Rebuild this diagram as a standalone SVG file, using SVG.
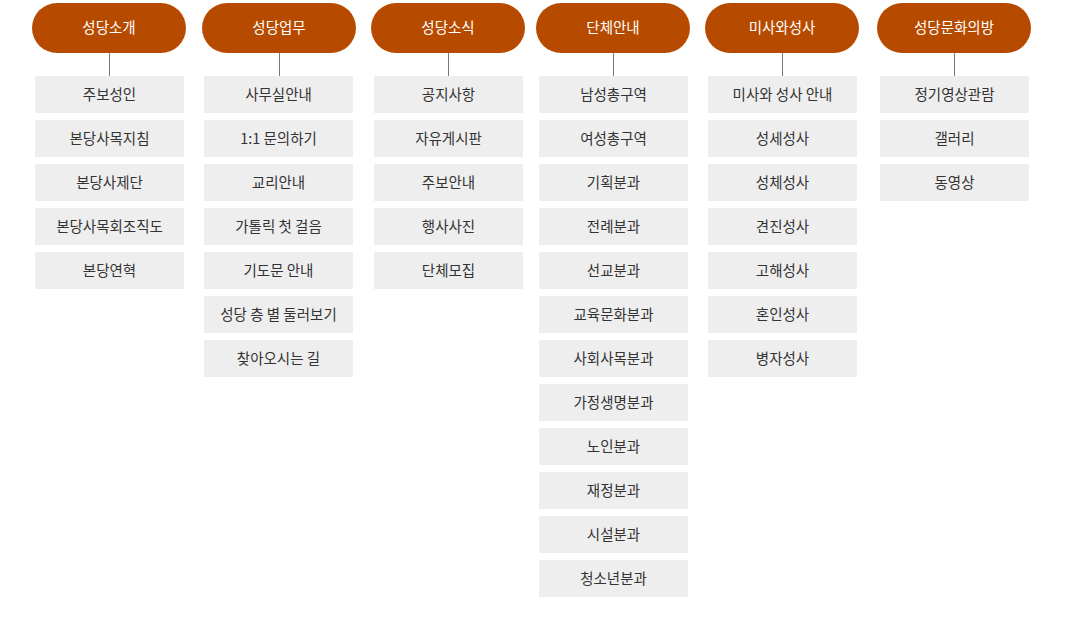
<svg xmlns="http://www.w3.org/2000/svg" width="1066" height="618" viewBox="0 0 1066 618">
<style>
.h rect{fill:#b64b00}
.h text{fill:#fff;font-family:"Noto Sans CJK KR","Noto Sans",sans-serif;font-size:14.5px;text-anchor:middle;dominant-baseline:central}
.i rect{fill:#eeeeee}
.i text{fill:#333;font-family:"Noto Sans CJK KR","Noto Sans",sans-serif;font-size:14.5px;text-anchor:middle;dominant-baseline:central}
.c line{stroke:#777;stroke-width:1}
</style>
<rect width="1066" height="618" fill="#fff"/>
<g id="connectors" class="c">
<line x1="109.5" y1="53" x2="109.5" y2="76"/>
<line x1="279.5" y1="53" x2="279.5" y2="76"/>
<line x1="448.5" y1="53" x2="448.5" y2="76"/>
<line x1="613.5" y1="53" x2="613.5" y2="76"/>
<line x1="782.5" y1="53" x2="782.5" y2="76"/>
<line x1="954.5" y1="53" x2="954.5" y2="76"/>
</g>
<g id="h1" class="h"><rect x="32" y="3" width="154" height="50" rx="25"/><text x="109" y="26.5">성당소개</text></g>
<g id="h2" class="h"><rect x="202" y="3" width="154" height="50" rx="25"/><text x="279" y="26.5">성당업무</text></g>
<g id="h3" class="h"><rect x="371" y="3" width="154" height="50" rx="25"/><text x="448" y="26.5">성당소식</text></g>
<g id="h4" class="h"><rect x="536" y="3" width="154" height="50" rx="25"/><text x="613" y="26.5">단체안내</text></g>
<g id="h5" class="h"><rect x="705" y="3" width="154" height="50" rx="25"/><text x="782" y="26.5">미사와성사</text></g>
<g id="h6" class="h"><rect x="877" y="3" width="154" height="50" rx="25"/><text x="954" y="26.5">성당문화의방</text></g>

<g id="c1" class="i">
<g id="c1-1"><rect x="35" y="76" width="149" height="37"/><text x="109.5" y="93.5">주보성인</text></g>
<g id="c1-2"><rect x="35" y="120" width="149" height="37"/><text x="109.5" y="137.5">본당사목지침</text></g>
<g id="c1-3"><rect x="35" y="164" width="149" height="37"/><text x="109.5" y="181.5">본당사제단</text></g>
<g id="c1-4"><rect x="35" y="208" width="149" height="37"/><text x="109.5" y="225.5">본당사목회조직도</text></g>
<g id="c1-5"><rect x="35" y="252" width="149" height="37"/><text x="109.5" y="269.5">본당연혁</text></g>
</g>
<g id="c2" class="i">
<g id="c2-1"><rect x="204" y="76" width="149" height="37"/><text x="278.5" y="93.5">사무실안내</text></g>
<g id="c2-2"><rect x="204" y="120" width="149" height="37"/><text x="278.5" y="137.5">1:1 문의하기</text></g>
<g id="c2-3"><rect x="204" y="164" width="149" height="37"/><text x="278.5" y="181.5">교리안내</text></g>
<g id="c2-4"><rect x="204" y="208" width="149" height="37"/><text x="278.5" y="225.5">가톨릭 첫 걸음</text></g>
<g id="c2-5"><rect x="204" y="252" width="149" height="37"/><text x="278.5" y="269.5">기도문 안내</text></g>
<g id="c2-6"><rect x="204" y="296" width="149" height="37"/><text x="278.5" y="313.5">성당 층 별 둘러보기</text></g>
<g id="c2-7"><rect x="204" y="340" width="149" height="37"/><text x="278.5" y="357.5">찾아오시는 길</text></g>
</g>
<g id="c3" class="i">
<g id="c3-1"><rect x="374" y="76" width="149" height="37"/><text x="448.5" y="93.5">공지사항</text></g>
<g id="c3-2"><rect x="374" y="120" width="149" height="37"/><text x="448.5" y="137.5">자유게시판</text></g>
<g id="c3-3"><rect x="374" y="164" width="149" height="37"/><text x="448.5" y="181.5">주보안내</text></g>
<g id="c3-4"><rect x="374" y="208" width="149" height="37"/><text x="448.5" y="225.5">행사사진</text></g>
<g id="c3-5"><rect x="374" y="252" width="149" height="37"/><text x="448.5" y="269.5">단체모집</text></g>
</g>
<g id="c4" class="i">
<g id="c4-1"><rect x="539" y="76" width="149" height="37"/><text x="613.5" y="93.5">남성총구역</text></g>
<g id="c4-2"><rect x="539" y="120" width="149" height="37"/><text x="613.5" y="137.5">여성총구역</text></g>
<g id="c4-3"><rect x="539" y="164" width="149" height="37"/><text x="613.5" y="181.5">기획분과</text></g>
<g id="c4-4"><rect x="539" y="208" width="149" height="37"/><text x="613.5" y="225.5">전례분과</text></g>
<g id="c4-5"><rect x="539" y="252" width="149" height="37"/><text x="613.5" y="269.5">선교분과</text></g>
<g id="c4-6"><rect x="539" y="296" width="149" height="37"/><text x="613.5" y="313.5">교육문화분과</text></g>
<g id="c4-7"><rect x="539" y="340" width="149" height="37"/><text x="613.5" y="357.5">사회사목분과</text></g>
<g id="c4-8"><rect x="539" y="384" width="149" height="37"/><text x="613.5" y="401.5">가정생명분과</text></g>
<g id="c4-9"><rect x="539" y="428" width="149" height="37"/><text x="613.5" y="445.5">노인분과</text></g>
<g id="c4-10"><rect x="539" y="472" width="149" height="37"/><text x="613.5" y="489.5">재정분과</text></g>
<g id="c4-11"><rect x="539" y="516" width="149" height="37"/><text x="613.5" y="533.5">시설분과</text></g>
<g id="c4-12"><rect x="539" y="560" width="149" height="37"/><text x="613.5" y="577.5">청소년분과</text></g>
</g>
<g id="c5" class="i">
<g id="c5-1"><rect x="708" y="76" width="149" height="37"/><text x="782.5" y="93.5">미사와 성사 안내</text></g>
<g id="c5-2"><rect x="708" y="120" width="149" height="37"/><text x="782.5" y="137.5">성세성사</text></g>
<g id="c5-3"><rect x="708" y="164" width="149" height="37"/><text x="782.5" y="181.5">성체성사</text></g>
<g id="c5-4"><rect x="708" y="208" width="149" height="37"/><text x="782.5" y="225.5">견진성사</text></g>
<g id="c5-5"><rect x="708" y="252" width="149" height="37"/><text x="782.5" y="269.5">고해성사</text></g>
<g id="c5-6"><rect x="708" y="296" width="149" height="37"/><text x="782.5" y="313.5">혼인성사</text></g>
<g id="c5-7"><rect x="708" y="340" width="149" height="37"/><text x="782.5" y="357.5">병자성사</text></g>
</g>
<g id="c6" class="i">
<g id="c6-1"><rect x="880" y="76" width="149" height="37"/><text x="954.5" y="93.5">정기영상관람</text></g>
<g id="c6-2"><rect x="880" y="120" width="149" height="37"/><text x="954.5" y="137.5">갤러리</text></g>
<g id="c6-3"><rect x="880" y="164" width="149" height="37"/><text x="954.5" y="181.5">동영상</text></g>
</g>
</svg>
